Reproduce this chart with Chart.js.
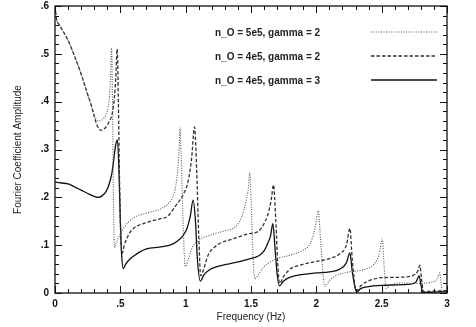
<!DOCTYPE html>
<html>
<head>
<meta charset="utf-8">
<script src="https://cdn.jsdelivr.net/npm/chart.js@4.4.1/dist/chart.umd.min.js"></script>
<style>
  html, body { margin: 0; padding: 0; background: #fff; }
  #wrap { width: 476px; height: 327px; }
</style>
</head>
<body>
<div id="wrap"><canvas id="fourierChart"></canvas></div>
<script>
// values
const seriesLabels = ["n_O = 5e5, gamma = 2", "n_O = 4e5, gamma = 2", "n_O = 4e5, gamma = 3"];

const freqA = [0, 0.012, 0.03, 0.06, 0.1, 0.15, 0.2, 0.25, 0.28, 0.3, 0.32, 0.345, 0.375, 0.4, 0.415, 0.425, 0.433, 0.44, 0.447, 0.455,
  0.47, 0.5, 0.53, 0.57, 0.62, 0.7, 0.8, 0.86, 0.9, 0.925, 0.94, 0.95, 0.957, 0.965, 0.98, 0.997,
  1.02, 1.05, 1.1, 1.2, 1.3, 1.38, 1.43, 1.46, 1.48, 1.49, 1.5, 1.515, 1.53,
  1.56, 1.6, 1.7, 1.8, 1.9, 1.95, 1.99, 2.015, 2.035, 2.065,
  2.1, 2.15, 2.25, 2.38, 2.45, 2.48, 2.505, 2.52, 2.535,
  2.56, 2.64, 2.77, 2.89, 2.93, 2.944, 2.955, 2.965, 3.0];
const ampA = [0.6, 0.572, 0.562, 0.548, 0.528, 0.495, 0.458, 0.415, 0.39, 0.372, 0.362, 0.36, 0.366, 0.38, 0.405, 0.45, 0.512, 0.4, 0.2, 0.095,
  0.105, 0.125, 0.138, 0.15, 0.16, 0.167, 0.175, 0.185, 0.2, 0.225, 0.26, 0.3, 0.345, 0.29, 0.15, 0.055,
  0.07, 0.095, 0.11, 0.122, 0.13, 0.138, 0.16, 0.19, 0.22, 0.252, 0.2, 0.08, 0.03,
  0.04, 0.055, 0.072, 0.079, 0.09, 0.102, 0.135, 0.172, 0.1, 0.014,
  0.026, 0.036, 0.044, 0.05, 0.063, 0.08, 0.113, 0.05, 0.009,
  0.015, 0.021, 0.02, 0.023, 0.032, 0.042, 0.02, 0.003, 0.004];

const freqB = [0, 0.012, 0.03, 0.06, 0.1, 0.15, 0.2, 0.25, 0.28, 0.3, 0.32, 0.35, 0.38, 0.41, 0.44, 0.455, 0.465, 0.476, 0.485, 0.495, 0.505, 0.515,
  0.53, 0.56, 0.6, 0.7, 0.8, 0.86, 0.93, 0.98, 1.02, 1.045, 1.068, 1.085, 1.1, 1.115,
  1.14, 1.17, 1.24, 1.35, 1.47, 1.56, 1.6, 1.63, 1.655, 1.672, 1.69, 1.705, 1.718,
  1.75, 1.8, 1.9, 2.0, 2.1, 2.18, 2.23, 2.257, 2.275, 2.305,
  2.34, 2.39, 2.5, 2.65, 2.74, 2.775, 2.792, 2.805, 2.82, 2.9, 3.0];
const ampB = [0.6, 0.572, 0.562, 0.548, 0.528, 0.495, 0.458, 0.415, 0.39, 0.37, 0.352, 0.34, 0.344, 0.356, 0.378, 0.41, 0.45, 0.51, 0.4, 0.22, 0.11, 0.083,
  0.1, 0.12, 0.135, 0.147, 0.155, 0.16, 0.185, 0.205, 0.235, 0.28, 0.347, 0.25, 0.12, 0.036,
  0.052, 0.078, 0.1, 0.112, 0.123, 0.13, 0.145, 0.165, 0.195, 0.226, 0.15, 0.06, 0.02,
  0.035, 0.05, 0.06, 0.066, 0.072, 0.082, 0.1, 0.135, 0.07, 0.005,
  0.015, 0.024, 0.032, 0.033, 0.037, 0.045, 0.058, 0.03, 0.003, 0.004, 0.005];

const freqC = [0, 0.05, 0.1, 0.15, 0.2, 0.25, 0.3, 0.33, 0.36, 0.39, 0.415, 0.435, 0.45, 0.465, 0.478, 0.49, 0.5, 0.51, 0.522,
  0.54, 0.57, 0.6, 0.65, 0.7, 0.8, 0.88, 0.93, 0.98, 1.01, 1.035, 1.057, 1.075, 1.09, 1.112,
  1.14, 1.18, 1.24, 1.35, 1.47, 1.56, 1.6, 1.63, 1.65, 1.667, 1.685, 1.7, 1.718,
  1.75, 1.8, 1.9, 2.0, 2.1, 2.18, 2.23, 2.257, 2.275, 2.308,
  2.34, 2.39, 2.5, 2.7, 2.76, 2.787, 2.8, 2.815, 2.9, 3.0];
const ampC = [0.232, 0.23, 0.228, 0.222, 0.215, 0.208, 0.202, 0.2, 0.203, 0.212, 0.228, 0.25, 0.28, 0.31, 0.32, 0.25, 0.15, 0.08, 0.051,
  0.06, 0.07, 0.077, 0.086, 0.092, 0.096, 0.1, 0.107, 0.12, 0.135, 0.16, 0.194, 0.15, 0.07, 0.025,
  0.038, 0.048, 0.055, 0.062, 0.07, 0.078, 0.088, 0.105, 0.12, 0.145, 0.09, 0.04, 0.015,
  0.025, 0.033, 0.039, 0.042, 0.044, 0.05, 0.063, 0.084, 0.045, 0.002,
  0.009, 0.013, 0.016, 0.018, 0.022, 0.036, 0.018, 0.001, 0.002, 0.003];

const toPoints = (xs, ys) => xs.map((f, i) => ({ x: f, y: ys[i] }));

function tickText(v) {
    // 0.5 -> ".5", 1.5 -> "1.5", 0 -> "0"
    const s = String(Math.round(v * 100) / 100);
    return s.startsWith("0.") ? s.slice(1) : s;
}

// frame with inward ticks on all four sides
const frameTicks = {
    id: "frameTicks",
    afterDatasetsDraw(chart) {
        const { ctx, chartArea: a, scales: { x, y } } = chart;
        ctx.save();
        ctx.strokeStyle = "#111";
        ctx.lineWidth = 1.3;
        ctx.strokeRect(a.left, a.top, a.right - a.left, a.bottom - a.top);
        ctx.lineWidth = 1;
        ctx.beginPath();
        for (let i = 0; i <= 30; i++) {
            const px = Math.round(x.getPixelForValue(i / 10)) + 0.5;
            const len = i % 5 === 0 ? 7 : 4;
            ctx.moveTo(px, a.bottom); ctx.lineTo(px, a.bottom - len);
            ctx.moveTo(px, a.top); ctx.lineTo(px, a.top + len);
        }
        for (let i = 0; i <= 30; i++) {
            const py = Math.round(y.getPixelForValue(i * 0.02)) + 0.5;
            const len = i % 5 === 0 ? 7 : 4;
            ctx.moveTo(a.left, py); ctx.lineTo(a.left + len, py);
            ctx.moveTo(a.right, py); ctx.lineTo(a.right - len, py);
        }
        ctx.stroke();
        ctx.restore();
    }
};

// legend inside the plot: text first, then a line sample
const insideLegend = {
    id: "insideLegend",
    afterDraw(chart) {
        const { ctx, chartArea: a } = chart;
        ctx.save();
        ctx.font = "bold 10px 'Liberation Sans', Arial, sans-serif";
        ctx.fillStyle = "#222";
        ctx.textBaseline = "middle";
        chart.data.datasets.forEach((ds, i) => {
            const ly = a.top + 26 + i * 24;
            ctx.fillText(ds.label, a.left + 160, ly + 1);
            ctx.beginPath();
            ctx.strokeStyle = ds.borderColor;
            ctx.lineWidth = ds.borderWidth;
            ctx.setLineDash(ds.borderDash || []);
            ctx.moveTo(a.left + 316, ly);
            ctx.lineTo(a.left + 382, ly);
            ctx.stroke();
        });
        ctx.restore();
    }
};

const ctx = document.getElementById("fourierChart").getContext("2d");

new Chart(ctx, {
    type: "line",
    data: {
        datasets: [
            {
                label: seriesLabels[0],
                data: toPoints(freqA, ampA),
                borderColor: "#555",
                borderWidth: 1.1,
                borderDash: [1, 1.5],
                pointRadius: 0,
                cubicInterpolationMode: "monotone"
            },
            {
                label: seriesLabels[1],
                data: toPoints(freqB, ampB),
                borderColor: "#333",
                borderWidth: 1.3,
                borderDash: [3.5, 2],
                pointRadius: 0,
                cubicInterpolationMode: "monotone"
            },
            {
                label: seriesLabels[2],
                data: toPoints(freqC, ampC),
                borderColor: "#111",
                borderWidth: 1.3,
                pointRadius: 0,
                cubicInterpolationMode: "monotone"
            }
        ]
    },
    options: {
        responsive: true,
        maintainAspectRatio: false,
        animation: false,
        layout: { autoPadding: false, padding: { top: 6, right: 29, left: 0, bottom: 0 } },
        plugins: {
            legend: { display: false },
            tooltip: { enabled: false }
        },
        scales: {
            x: {
                type: "linear",
                min: 0,
                max: 3,
                afterFit: s => { s.height = 34; s.paddingLeft = 0; s.paddingRight = 0; },
                grid: { display: false, drawTicks: false },
                border: { display: false },
                ticks: {
                    stepSize: 0.5,
                    padding: 5,
                    color: "#111",
                    font: { family: "'Liberation Sans', Arial, sans-serif", size: 10, weight: "bold" },
                    callback: v => tickText(v)
                },
                title: {
                    display: true,
                    text: "Frequency (Hz)",
                    color: "#222",
                    padding: { top: 0, bottom: 4 },
                    font: { family: "'Liberation Sans', Arial, sans-serif", size: 10 }
                }
            },
            y: {
                min: 0,
                max: 0.6,
                afterFit: s => { s.width = 55; s.paddingTop = 0; s.paddingBottom = 0; },
                grid: { display: false, drawTicks: false },
                border: { display: false },
                ticks: {
                    stepSize: 0.1,
                    padding: 6,
                    color: "#111",
                    font: { family: "'Liberation Sans', Arial, sans-serif", size: 10, weight: "bold" },
                    callback: v => tickText(v)
                },
                title: {
                    display: true,
                    text: "Fourier Coefficient Amplitude",
                    color: "#222",
                    padding: { top: 12, bottom: 0 },
                    font: { family: "'Liberation Sans', Arial, sans-serif", size: 10 }
                }
            }
        }
    },
    plugins: [frameTicks, insideLegend]
});
</script>
</body>
</html>
